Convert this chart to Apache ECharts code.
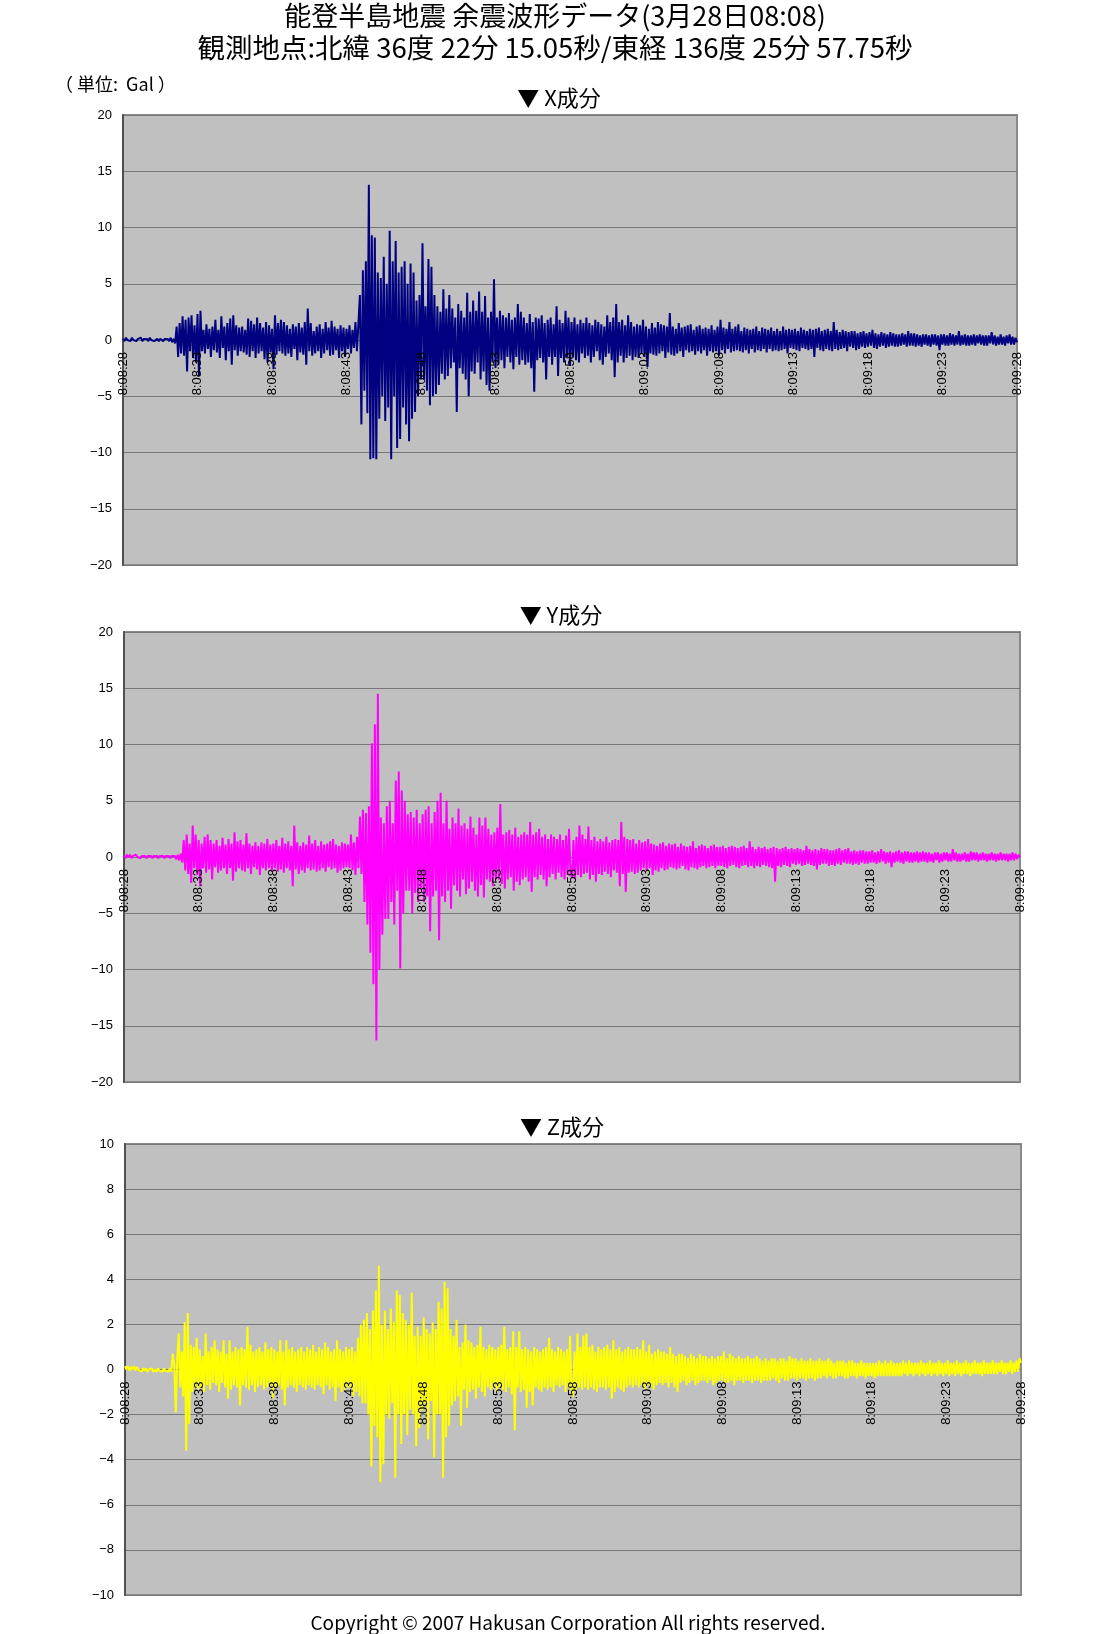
<!DOCTYPE html>
<html>
<head>
<meta charset="utf-8">
<script src="https://cdn.jsdelivr.net/npm/echarts@6/dist/echarts.min.js"></script>
<style>
html,body{margin:0;padding:0;background:#fff;}
#c{width:1106px;height:1634px;}
</style>
</head>
<body>
<div id="c"></div>
<script>
// time axis tick labels (every 5 s)
const tickLabels = ['8:08:28','8:08:33','8:08:38','8:08:43','8:08:48','8:08:53','8:08:58','8:09:03','8:09:08','8:09:13','8:09:18','8:09:23','8:09:28'];
// sample spacing of the values below, in seconds
const sampleStep = 0.1;

// X component (Gal), 10 samples per second, t = 0 .. 60 s
const xVals = [
0.1,-0.1,0.2,0,0.1,-0.1,0.2,0,0.1,-0.1,
0.1,0,0.2,-0.1,0.1,0,0.1,-0.1,0.2,0,
0.1,-0.1,0,0.1,-0.1,0.1,0,-0.1,0.1,0,
0.1,-0.1,0.2,-0.2,0.1,-0.3,1.2,-1.5,1.5,-1.2,
2.1,-1.4,1.8,-2.8,2.0,-1.0,2.2,-1.6,1.3,-2.0,
2.3,-3.2,2.6,-1.0,0.9,-1.2,1.4,-0.8,1.0,-1.5,
1.2,-0.9,1.8,-1.1,0.9,-1.6,2.1,-0.7,1.2,-1.8,
1.5,-1.0,1.9,-2.2,2.2,-0.9,1.3,-1.4,1.1,-1.0,
1.2,-1.1,0.9,-1.3,1.9,-1.5,1.7,-1.0,1.4,-1.6,
2.0,-1.2,1.5,-1.0,1.1,-1.7,1.6,-2.0,1.3,-1.1,
1.0,-2.6,2.2,-1.3,1.5,-1.0,1.8,-1.2,1.6,-1.4,
1.3,-1.2,1.0,-1.5,1.4,-0.8,1.2,-1.8,1.5,-1.1,
1.1,-1.3,1.6,-2.2,2.8,-1.0,1.5,-1.4,0.8,-1.2,
1.2,-1.0,1.4,-1.6,1.0,-1.2,1.6,-0.9,1.1,-1.4,
1.7,-1.3,1.2,-0.9,1.0,-1.6,1.3,-1.0,1.1,-1.5,
1.0,-0.8,1.3,-1.2,0.9,-0.7,1.6,-1.0,1.5,4.0,
-7.5,6.2,-4.5,7.0,-6.5,13.8,-10.6,9.3,-10.5,9.1,
-10.6,6.0,-7.0,5.5,-5.0,7.4,-7.2,5.0,-6.0,9.7,
-10.6,7.0,-5.0,8.8,-9.6,6.0,-8.8,6.5,-6.0,7.0,
-7.5,5.0,-9.0,6.8,-7.0,6.0,-6.4,3.5,-5.0,4.0,
-3.5,8.6,-3.5,3.0,-4.5,7.2,-5.8,6.5,-5.0,4.0,
-4.8,3.0,-4.0,2.5,-3.0,4.5,-3.5,2.8,-3.2,4.0,
-2.5,2.8,-2.0,2.0,-6.4,3.2,-2.5,2.6,-3.0,2.0,
-3.5,4.2,-5.0,2.5,-2.8,3.5,-3.0,2.6,-2.0,4.3,
-3.5,2.5,-2.8,3.9,-4.0,2.0,-4.5,2.5,-2.0,5.4,
-2.5,2.0,-2.2,2.6,-1.8,2.2,-2.5,2.0,-1.5,2.4,
-2.0,1.8,-2.6,2.0,-1.5,3.2,-2.2,2.5,-1.8,2.0,
-2.2,1.5,-2.0,2.3,-2.5,1.6,-4.6,2.0,-1.8,1.9,
-1.6,2.2,-2.0,1.5,-3.5,1.8,-1.5,2.0,-2.2,1.4,
-1.5,3.0,-3.2,1.8,-1.6,1.5,-2.0,2.6,-1.5,2.0,
-2.3,1.6,-1.5,2.0,-1.8,1.4,-2.0,1.8,-1.2,1.5,
-1.6,2.0,-1.4,1.5,-2.0,1.3,-1.5,1.8,-1.0,1.6,
-1.8,1.4,-2.2,1.2,-1.5,2.2,-1.2,1.6,-1.8,2.0,
-3.3,3.2,-2.0,1.6,-1.4,1.8,-2.0,1.3,-1.6,2.2,
-1.4,1.6,-1.8,1.2,-1.5,1.4,-1.6,1.3,-1.2,1.8,
-1.5,1.2,-2.4,1.0,-1.2,1.5,-1.3,1.1,-1.4,1.6,
-1.2,1.4,-1.0,1.3,-1.6,1.2,-1.1,2.4,-1.3,1.2,
-1.4,1.0,-1.2,1.5,-1.0,1.1,-1.5,1.2,-0.9,1.3,
-1.1,1.4,-1.0,0.9,-1.3,1.2,-1.0,1.3,-1.2,1.0,
-0.9,1.1,-1.4,1.0,-1.0,1.3,-1.1,0.9,-1.0,1.2,
-1.4,1.8,-0.9,1.1,-1.2,1.0,-0.8,1.6,-1.1,1.0,
-1.0,1.2,-0.9,1.4,-1.0,0.8,-1.1,1.1,-0.9,1.0,
-1.2,0.9,-0.8,1.0,-1.1,1.2,-0.9,0.8,-1.0,1.1,
-0.8,1.0,-1.1,0.9,-0.8,1.1,-1.0,0.8,-0.9,1.0,
-1.0,0.8,-0.9,1.2,-0.8,0.9,-1.2,1.0,-0.7,0.9,
-0.8,1.0,-0.9,0.8,-1.0,1.1,-0.7,0.9,-0.8,0.8,
-0.9,1.0,-0.8,0.9,-1.5,1.0,-0.7,1.1,-0.9,0.8,
-1.0,0.9,-0.8,1.0,-0.9,0.8,-1.0,1.6,-0.8,0.9,
-0.9,0.7,-0.8,0.9,-0.7,0.8,-1.0,0.7,-0.6,0.8,
-0.7,0.8,-0.9,0.6,-0.8,0.7,-0.6,0.8,-0.7,0.6,
-0.6,0.7,-0.5,0.9,-0.7,0.6,-0.8,0.5,-0.6,0.7,
-0.5,0.6,-0.7,0.5,-0.6,0.7,-0.5,0.6,-0.6,0.5,
-0.6,0.5,-0.5,0.6,-0.4,0.5,-0.6,0.8,-0.5,0.6,
-0.5,0.6,-0.6,0.5,-0.5,0.4,-0.6,0.5,-0.4,0.5,
-0.5,0.4,-0.6,0.5,-0.4,0.5,-0.5,0.4,-0.9,0.5,
-0.4,0.5,-0.5,0.4,-0.5,0.6,-0.4,0.5,-0.5,0.4,
-0.4,0.8,-0.5,0.4,-0.4,0.5,-0.5,0.4,-0.5,0.4,
-0.4,0.5,-0.5,0.4,-0.3,0.5,-0.4,0.4,-0.5,0.4,
-0.5,0.4,-0.3,0.7,-0.4,0.4,-0.5,0.3,-0.4,0.5,
-0.4,0.3,-0.5,0.4,-0.3,0.5,-0.4,0.3,-0.4,0.2,
-0.2
];

// Y component (Gal)
const yVals = [
0.1,-0.1,0.2,0,0.2,-0.1,0.1,0,0.2,0,
0.1,-0.1,0.1,0,0.1,-0.1,0.1,0,0.1,-0.1,
0.1,0,0.1,-0.1,0.1,0,0.1,-0.1,0.1,0,
0.1,-0.1,0.1,0,0.1,-0.2,0.2,-0.3,0.3,-0.5,
1.5,-1.2,2.0,-1.5,1.2,-2.3,2.8,-1.0,2.0,-1.6,
1.5,-2.6,1.2,-1.0,1.8,-1.4,2.0,-1.1,1.5,-2.0,
1.2,-0.9,1.5,-1.4,1.0,-1.2,1.7,-1.0,1.1,-1.5,
1.6,-1.0,1.2,-2.1,2.2,-1.3,1.4,-1.0,1.5,-1.2,
1.1,-1.3,2.1,-1.0,1.2,-1.5,1.0,-0.9,1.3,-1.1,
1.0,-1.6,1.3,-1.0,1.2,-1.2,1.6,-1.0,1.1,-1.3,
1.2,-1.0,1.5,-1.3,1.0,-1.1,1.7,-1.4,1.2,-1.0,
1.4,-1.2,1.0,-2.6,2.8,-1.1,1.3,-1.5,1.0,-1.2,
1.3,-1.4,1.1,-1.0,1.9,-1.2,1.2,-1.1,1.5,-1.3,
1.0,-1.2,1.4,-1.0,1.1,-1.3,1.2,-0.9,1.4,-1.1,
1.6,-1.0,1.1,-1.4,1.0,-1.2,1.3,-1.0,1.2,-0.9,
1.1,-1.0,2.0,-1.2,1.3,-1.6,1.8,-1.0,3.6,-1.5,
4.2,-4.0,3.9,-6.0,4.5,-8.5,10.1,-11.3,11.8,-16.3,
14.5,-10.0,3.5,-6.9,3.0,-5.5,4.5,-5.5,5.0,-4.0,
3.0,-6.0,6.8,-3.0,7.6,-9.9,5.9,-5.0,5.0,-3.0,
3.8,-3.0,4.0,-5.0,3.5,-3.2,4.2,-4.0,3.0,-2.8,
3.8,-4.0,4.2,-3.5,4.5,-6.6,3.0,-3.5,4.0,-3.0,
5.0,-7.4,5.7,-3.5,3.0,-4.0,5.0,-3.0,2.5,-4.6,
3.5,-2.5,3.0,-3.0,4.3,-3.5,2.8,-2.0,3.0,-3.3,
2.5,-2.8,3.6,-2.2,2.6,-3.0,2.0,-3.5,3.5,-2.5,
2.8,-3.6,3.5,-2.0,2.5,-2.2,2.0,-2.6,2.2,-2.0,
2.6,-2.0,4.7,-2.4,2.0,-2.8,2.2,-2.0,2.4,-1.8,
2.0,-3.0,2.6,-2.2,1.8,-2.5,2.0,-2.0,2.2,-1.8,
2.0,-2.2,3.1,-3.1,2.0,-1.8,2.2,-2.0,2.5,-1.6,
1.8,-2.0,2.0,-2.6,1.6,-1.8,2.0,-1.5,1.8,-2.0,
1.6,-1.4,2.0,-1.8,1.5,-2.0,1.9,-1.6,2.5,-1.5,
-1.8,1.5,-2.0,1.8,-1.6,2.8,-1.8,2.0,-1.5,1.6,
-1.4,2.7,-2.0,1.5,-1.6,1.8,-2.2,1.4,-1.5,1.6,
-1.6,1.4,-1.3,1.8,-1.5,1.3,-1.8,1.5,-1.2,1.6,
-1.4,1.5,-2.6,3.1,-1.5,1.8,-3.1,1.6,-1.4,1.5,
-1.3,1.6,-1.5,1.2,-1.4,1.5,-1.2,1.3,-1.0,1.4,
-1.2,1.6,-1.0,1.2,-1.6,1.1,-1.2,1.0,-1.3,1.2,
-1.0,1.3,-1.2,1.0,-1.1,1.2,-0.9,1.1,-1.0,1.2,
-1.1,0.9,-1.0,1.2,-0.8,1.0,-1.1,0.9,-1.2,1.0,
-0.9,1.4,-1.0,0.8,-1.1,1.0,-0.9,1.1,-0.8,1.0,
-1.0,0.8,-0.9,1.0,-0.8,1.1,-1.0,0.9,-0.8,0.9,
-0.8,1.0,-0.9,0.8,-1.0,0.9,-0.8,1.0,-0.7,0.9,
-0.9,0.8,-1.0,0.9,-0.8,1.0,-0.7,0.8,-0.9,1.4,
-0.8,0.9,-1.0,0.7,-0.8,0.9,-0.9,0.8,-0.7,0.9,
-0.8,0.7,-0.9,0.8,-1.0,0.9,-2.2,0.8,-0.8,0.7,
-0.9,0.8,-0.7,0.9,-0.8,0.7,-0.9,0.8,-0.6,0.7,
-0.7,0.8,-0.6,0.7,-0.8,0.6,-0.7,1.0,-0.6,0.7,
-0.7,0.6,-0.8,0.7,-1.1,0.6,-0.7,0.8,-0.6,0.7,
-0.6,0.7,-0.8,0.6,-0.7,0.6,-0.8,0.7,-0.6,0.8,
-0.7,0.6,-0.5,0.7,-0.6,0.8,-0.6,0.5,-0.7,0.6,
-0.6,0.5,-0.7,0.6,-0.5,0.6,-0.6,0.5,-0.6,0.5,
-0.5,0.6,-0.5,0.4,-0.6,0.5,-0.5,0.7,-0.4,0.5,
-0.6,0.4,-0.5,0.5,-0.9,0.4,-0.5,0.5,-0.4,0.6,
-0.5,0.4,-0.6,0.5,-0.4,0.5,-0.5,0.4,-0.5,0.4,
-0.4,0.5,-0.5,0.4,-0.4,0.5,-0.4,0.4,-0.5,0.4,
-0.4,0.3,-0.5,0.4,-0.3,0.4,-0.5,0.3,-0.4,0.4,
-0.3,0.4,-0.4,0.3,-0.4,0.7,-0.3,0.4,-0.4,0.3,
-0.4,0.3,-0.3,0.4,-0.4,0.3,-0.4,0.5,-0.3,0.4,
-0.3,0.4,-0.4,0.3,-0.3,0.4,-0.3,0.3,-0.4,0.3,
-0.3,0.4,-0.3,0.3,-0.4,0.3,-0.3,0.4,-0.3,0.3,
-0.3,0.3,-0.4,0.3,-0.3,0.4,-0.3,0.3,-0.2,0.2,
0.0
];

// Z component (Gal)
const zVals = [
0.15,0,0.15,-0.05,0.1,0,0.15,-0.05,0.1,0,
0.05,-0.1,0.05,-0.05,0.05,-0.1,0,-0.05,0.05,-0.1,
0,-0.1,0.05,-0.05,0,-0.1,0.05,-0.05,0,-0.1,
0.05,-0.1,0.7,0.2,-1.9,0.5,1.6,-0.8,0.8,-1.2,
2.1,-3.6,2.5,-2.4,1.1,-1.0,1.0,-0.8,1.4,-0.9,
0.9,-0.8,0.6,-1.0,1.6,-0.7,0.8,-0.9,1.0,-0.6,
1.3,-0.7,0.9,-1.0,0.8,-0.6,1.3,-0.8,0.7,-1.3,
1.3,-0.9,0.8,-0.7,1.0,-0.8,0.9,-1.6,1.0,-0.7,
0.9,-0.8,1.9,-0.9,1.1,-0.7,0.8,-1.0,0.9,-0.8,
1.0,-0.7,0.8,-0.9,1.2,-0.8,0.9,-0.7,1.0,-1.3,
0.9,-0.8,0.8,-0.7,1.3,-0.9,0.8,-1.6,1.3,-0.8,
0.9,-0.7,1.0,-0.8,0.8,-1.0,0.9,-0.7,1.0,-0.8,
0.8,-0.9,1.0,-0.7,0.9,-0.8,1.1,-0.9,0.8,-0.7,
1.0,-0.8,0.9,-1.1,1.2,-0.7,1.0,-0.9,0.8,-0.8,
0.9,-1.4,1.3,-0.8,0.9,-1.0,0.8,-0.9,1.0,-0.8,
0.9,-0.8,1.0,-1.2,0.8,-1.0,1.4,-1.2,2.0,-1.5,
2.2,-1.5,2.5,-2.0,1.8,-4.3,2.6,-2.5,3.5,-3.0,
4.6,-5.0,2.0,-4.2,2.6,-2.0,1.8,-2.2,2.7,-1.5,
2.1,-4.8,3.5,-2.0,3.3,-3.3,2.5,-2.0,2.2,-2.9,
2.0,-1.8,3.4,-2.0,1.5,-3.4,1.9,-2.6,1.5,-1.8,
2.3,-1.5,1.8,-3.1,1.6,-1.4,2.1,-3.9,1.8,-2.0,
3.0,-2.0,2.7,-4.8,3.9,-3.0,3.6,-2.5,1.8,-1.6,
1.5,-1.4,2.2,-1.2,1.0,-2.5,1.2,-0.9,2.0,-1.7,
1.3,-1.0,1.2,-0.9,1.0,-1.3,1.1,-0.8,1.9,-1.0,
1.0,-1.2,0.9,-0.8,1.1,-0.9,1.0,-0.8,0.9,-1.0,
1.0,-0.8,1.1,-0.9,1.9,-1.0,0.9,-0.8,1.0,-1.1,
1.7,-2.7,1.0,-0.8,1.7,-1.0,0.9,-0.9,1.0,-1.7,
0.9,-1.0,0.8,-1.6,1.0,-0.8,0.9,-0.9,0.8,-1.0,
0.9,-0.8,1.0,-0.9,1.4,-0.8,0.9,-1.0,0.8,-0.7,
1.0,-0.8,0.9,-0.7,0.8,-1.0,0.9,-0.8,1.5,-0.9,
-1.2,0.8,-0.9,1.6,-0.8,1.0,-0.9,1.5,-0.8,1.6,
-0.9,1.0,-0.8,1.1,-0.9,0.8,-1.0,1.0,-0.8,0.9,
-0.8,1.0,-0.9,1.1,-0.8,0.9,-1.3,1.3,-1.0,0.9,
-0.8,1.0,-0.9,0.8,-1.0,0.9,-0.8,1.0,-0.7,0.9,
-0.8,0.9,-0.7,1.0,-0.8,0.9,-0.7,1.3,-0.9,0.8,
-0.7,1.1,-0.8,0.7,-0.9,0.8,-0.7,0.9,-0.6,0.8,
-0.7,0.8,-0.6,0.7,-0.8,1.0,-0.6,0.7,-0.8,0.6,
-1.0,0.7,-0.6,0.7,-0.5,0.6,-0.7,0.5,-0.6,0.7,
-0.5,0.6,-0.7,0.5,-0.6,0.7,-0.5,0.6,-0.5,0.6,
-0.6,0.5,-0.5,0.6,-0.7,0.5,-0.6,0.6,-0.5,0.6,
-0.5,0.8,-0.6,0.5,-0.6,0.7,-0.5,0.6,-0.7,0.5,
-0.5,0.6,-0.5,0.5,-0.6,0.5,-0.5,0.6,-0.5,0.5,
-0.6,0.5,-0.5,0.6,-0.5,0.5,-0.6,0.4,-0.5,0.5,
-0.5,0.4,-0.5,0.5,-0.4,0.5,-0.5,0.4,-0.6,0.5,
-0.4,0.5,-0.5,0.4,-0.5,0.6,-0.4,0.5,-0.4,0.5,
-0.5,0.4,-0.4,0.5,-0.4,0.4,-0.5,0.4,-0.4,0.5,
-0.4,0.4,-0.5,0.4,-0.4,0.5,-0.4,0.4,-0.3,0.4,
-0.4,0.5,-0.3,0.4,-0.4,0.3,-0.4,0.4,-0.3,0.4,
-0.3,0.4,-0.4,0.3,-0.4,0.4,-0.3,0.4,-0.3,0.3,
-0.4,0.3,-0.3,0.4,-0.3,0.3,-0.4,0.3,-0.3,0.3,
-0.3,0.3,-0.4,0.3,-0.3,0.4,-0.3,0.3,-0.3,0.4,
-0.3,0.3,-0.3,0.4,-0.3,0.3,-0.3,0.3,-0.3,0.3,
-0.3,0.4,-0.2,0.3,-0.3,0.4,-0.2,0.3,-0.3,0.3,
-0.2,0.3,-0.3,0.4,-0.2,0.3,-0.3,0.3,-0.2,0.4,
-0.3,0.3,-0.2,0.3,-0.3,0.4,-0.2,0.3,-0.3,0.3,
-0.2,0.4,-0.3,0.3,-0.2,0.3,-0.3,0.4,-0.2,0.3,
-0.3,0.3,-0.2,0.4,-0.2,0.3,-0.3,0.3,-0.2,0.4,
-0.2,0.3,-0.2,0.3,-0.3,0.4,-0.2,0.3,-0.2,0.3,
-0.2,0.4,-0.2,0.3,-0.2,0.3,-0.1,0.4,-0.2,0.3,
-0.2,0.3,-0.1,0.4,-0.2,0.3,-0.1,0.4,-0.1,0.5,
0.3
];

const panelTitles = ['▼ X成分', '▼ Y成分', '▼ Z成分'];
const seriesColors = ['#000080', '#FF00FF', '#FFFF00'];

const toPairs = arr => arr.map((v, i) => [Math.round(i * sampleStep * 10) / 10, v]);
const cjk = '"Noto Sans CJK JP", "Noto Sans", sans-serif';
const numFont = '"Liberation Sans", Arial, sans-serif';

const grids = [
  {left: 123, top: 115, width: 894, height: 450},
  {left: 124, top: 632, width: 896, height: 450},
  {left: 125, top: 1144, width: 896, height: 451}
];
const yRanges = [[-20, 20, 5], [-20, 20, 5], [-10, 10, 2]];

const chart = echarts.init(document.getElementById('c'), null, {renderer: 'canvas'});

const option = {
  animation: false,
  backgroundColor: '#ffffff',
  grid: grids.map(g => Object.assign({show: true, backgroundColor: '#C0C0C0', borderColor: '#8a8a8a', borderWidth: 2}, g)),
  xAxis: grids.map((g, i) => ({
    type: 'value', gridIndex: i, min: 0, max: 60, interval: 5,
    position: 'bottom',
    // the time axis crosses the plot at value 0 (middle of each panel)
    offset: -(g.height / 2),
    z: 10,
    axisLine: {show: false, onZero: false},
    axisTick: {show: false},
    splitLine: {show: false},
    axisLabel: {
      rotate: 90, margin: 12, fontSize: 13, color: '#000', fontFamily: numFont,
      showMinLabel: true, showMaxLabel: true,
      formatter: v => tickLabels[Math.round(v / 5)]
    }
  })),
  yAxis: grids.map((g, i) => ({
    type: 'value', gridIndex: i, min: yRanges[i][0], max: yRanges[i][1], interval: yRanges[i][2],
    axisLine: {show: true, onZero: false, lineStyle: {color: '#505050', width: 2}},
    axisTick: {show: false},
    splitLine: {show: true, lineStyle: {color: '#787878', width: 1}},
    axisLabel: {
      margin: 11, fontSize: 13, color: '#000', fontFamily: numFont,
      formatter: v => (v < 0 ? '\u2212' + Math.abs(v) : String(v))
    }
  })),
  series: [xVals, yVals, zVals].map((vals, i) => ({
    type: 'line', xAxisIndex: i, yAxisIndex: i,
    data: toPairs(vals), showSymbol: false, symbol: 'none',
    lineStyle: {color: seriesColors[i], width: 2},
    itemStyle: {color: seriesColors[i]},
    sampling: null, z: 3
  })),
  graphic: [
    {type: 'text', x: 555, y: 16, style: {text: '能登半島地震 余震波形データ(3月28日08:08)', font: '27px ' + cjk, fill: '#000', textAlign: 'center', textVerticalAlign: 'middle'}},
    {type: 'text', x: 555, y: 48, style: {text: '観測地点:北緯 36度 22分 15.05秒/東経 136度 25分 57.75秒', font: '27.5px ' + cjk, fill: '#000', textAlign: 'center', textVerticalAlign: 'middle'}},
    {type: 'text', x: 55, y: 84, style: {text: '（ 単位:  Gal ）', font: '18px ' + cjk, fill: '#000', textAlign: 'left', textVerticalAlign: 'middle'}},
    {type: 'text', x: 559, y: 98, style: {text: panelTitles[0], font: '22px ' + cjk, fill: '#000', textAlign: 'center', textVerticalAlign: 'middle'}},
    {type: 'text', x: 561, y: 615, style: {text: panelTitles[1], font: '22px ' + cjk, fill: '#000', textAlign: 'center', textVerticalAlign: 'middle'}},
    {type: 'text', x: 562, y: 1127, style: {text: panelTitles[2], font: '22px ' + cjk, fill: '#000', textAlign: 'center', textVerticalAlign: 'middle'}},
    {type: 'text', x: 568, y: 1623, style: {text: 'Copyright © 2007 Hakusan Corporation All rights reserved.', font: '19px ' + cjk, fill: '#000', textAlign: 'center', textVerticalAlign: 'middle'}}
  ]
};
chart.setOption(option);
</script>
</body>
</html>
